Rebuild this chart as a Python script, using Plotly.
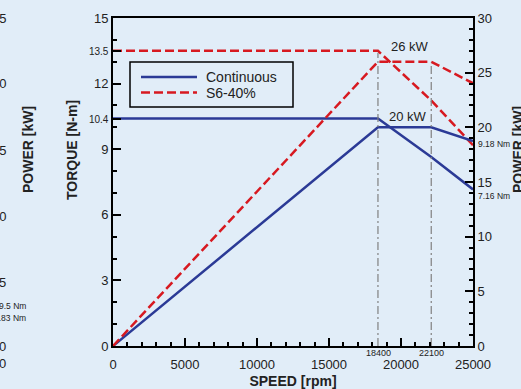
import plotly.graph_objects as go

# ---- data ----
speed = [0, 18400, 22100, 25000]
cont_torque = [10.4, 10.4, 8.64, 7.16]
cont_power = [0, 20, 20, 18.74]
s6_torque = [13.5, 13.5, 11.23, 9.18]
s6_power = [0, 26, 26, 24.03]
series_names = ["Continuous", "S6-40%"]
marker_speeds = [18400, 22100]
marker_tops = [26.8, 25.9]  # power-axis value where the dash-dot guides end
torque_ticks = [0, 3, 6, 9, 12, 15]
torque_special = [10.4, 13.5]
power_ticks = [0, 5, 10, 15, 20, 25, 30]
speed_ticks = [0, 5000, 10000, 15000, 20000, 25000]

BLUE = "#2b3a96"
RED = "#d71920"
BG = "#e1edf8"
FONT = "Liberation Sans, Arial, sans-serif"
RED_DASH = "9px,4px"

W, H = 521, 389
L, R, T, B = 113, 48, 18, 43
PW = W - L - R
PH = H - T - B


def px(x):
    return (x - L) / PW


def py(y):
    return (H - B - y) / PH


fig = go.Figure()
fig.add_trace(go.Scatter(x=speed, y=cont_torque, mode="lines", name=series_names[0],
                         line=dict(color=BLUE, width=2.5), yaxis="y"))
fig.add_trace(go.Scatter(x=speed, y=s6_torque, mode="lines", name=series_names[1],
                         line=dict(color=RED, width=2.5, dash=RED_DASH), yaxis="y"))
fig.add_trace(go.Scatter(x=speed, y=cont_power, mode="lines", name=series_names[0],
                         line=dict(color=BLUE, width=2.5), yaxis="y2"))
fig.add_trace(go.Scatter(x=speed, y=s6_power, mode="lines", name=series_names[1],
                         line=dict(color=RED, width=2.5, dash=RED_DASH), yaxis="y2"))

for s, top in zip(marker_speeds, marker_tops):
    fig.add_trace(go.Scatter(x=[s, s], y=[0, top], mode="lines", showlegend=False,
                             line=dict(color="#808080", width=1.2,
                                       dash="8px,3px,2px,3px"),
                             yaxis="y2"))

tvals = torque_ticks + torque_special
ttext = [str(v) for v in torque_ticks] + \
    ['<span style="font-size:10px">%s</span>' % v for v in torque_special]

fig.update_layout(
    width=W, height=H,
    margin=dict(l=L, r=R, t=T, b=B, autoexpand=False),
    paper_bgcolor=BG, plot_bgcolor=BG,
    font=dict(family=FONT, size=13, color="#222222"),
    showlegend=False,
    xaxis=dict(range=[0, 25000], tickvals=speed_ticks,
               ticktext=[str(v) for v in speed_ticks], ticks="inside", ticklen=8,
               tickwidth=1.5, tickcolor="black", showgrid=False, zeroline=False,
               showline=True, linecolor="black", linewidth=2, mirror=True,
               automargin=False, ticklabelstandoff=5,
               minor=dict(dtick=1000, ticks="inside", ticklen=4, tickcolor="black",
                          showgrid=False),
               title=dict(text="<b>SPEED [rpm]</b>", font=dict(size=14, color="#222222"),
                          standoff=6)),
    yaxis=dict(range=[0, 15], tickvals=tvals, ticktext=ttext, ticks="inside",
               ticklen=8, tickwidth=1.5, tickcolor="black", showgrid=False,
               zeroline=False, showline=True, linecolor="black", linewidth=2,
               automargin=False,
               minor=dict(dtick=1, ticks="inside", ticklen=4, tickcolor="black",
                          showgrid=False)),
    yaxis2=dict(range=[0, 30], tickvals=power_ticks, overlaying="y", side="right",
                ticks="inside", ticklen=8, tickwidth=1.5, tickcolor="black",
                showgrid=False, zeroline=False, showline=True, linecolor="black",
                linewidth=2, automargin=False,
                minor=dict(dtick=1, ticks="inside", ticklen=4, tickcolor="black",
                           showgrid=False)),
)

# legend box drawn by hand to match the reference proportions
fig.add_shape(type="rect", xref="paper", yref="paper",
              x0=px(130), x1=px(293), y0=py(107), y1=py(62),
              line=dict(color="black", width=1.5), fillcolor=BG, layer="above")
fig.add_shape(type="line", xref="paper", yref="paper",
              x0=px(141), x1=px(197), y0=py(77), y1=py(77),
              line=dict(color=BLUE, width=2.5))
fig.add_shape(type="line", xref="paper", yref="paper",
              x0=px(141), x1=px(197), y0=py(92.5), y1=py(92.5),
              line=dict(color=RED, width=2.5, dash=RED_DASH))

ann = []
ann.append(dict(text=series_names[0], x=px(204), y=py(77), xanchor="left", font=dict(size=14)))
ann.append(dict(text=series_names[1], x=px(204), y=py(92.5), xanchor="left", font=dict(size=14)))
# axis titles
ann.append(dict(text="<b>TORQUE [N-m]</b>", x=px(72), y=py(150), textangle=-90,
                font=dict(size=14)))
ann.append(dict(text="<b>POWER [kW]</b>", x=px(518), y=py(150), textangle=-90,
                font=dict(size=14)))
# special speed labels
ann.append(dict(text="18400", x=px(378), y=py(353), font=dict(size=9)))
ann.append(dict(text="22100", x=px(431), y=py(353), font=dict(size=9)))
# point annotations
ann.append(dict(text="26 kW", x=px(410), y=py(47), font=dict(size=13)))
ann.append(dict(text="20 kW", x=px(408), y=py(116), font=dict(size=13)))
ann.append(dict(text="9.18 Nm", x=px(476), y=py(144), xanchor="left", font=dict(size=8.5)))
ann.append(dict(text="7.16 Nm", x=px(476), y=py(196), xanchor="left", font=dict(size=8.5)))
# cropped neighbouring chart on the far left
for txt, yy in [("25", 18), ("20", 84), ("15", 150), ("10", 216), ("5", 282), ("0", 346)]:
    ann.append(dict(text=txt, x=px(8), y=py(yy), xanchor="right", font=dict(size=13)))
ann.append(dict(text="9.5 Nm", x=px(28), y=py(306), xanchor="right", font=dict(size=8.5)))
ann.append(dict(text="7.83 Nm", x=px(28), y=py(318), xanchor="right", font=dict(size=8.5)))
ann.append(dict(text="0", x=px(8), y=py(363), xanchor="right", font=dict(size=13)))
ann.append(dict(text="<b>POWER [kW]</b>", x=px(28), y=py(150), textangle=-90,
                font=dict(size=14)))

for a in ann:
    a.setdefault("xanchor", "center")
    a.update(xref="paper", yref="paper", yanchor="middle", showarrow=False)
    fig.add_annotation(**a)

fig.write_html("out.html", config={"displayModeBar": False},
               post_script="document.body.style.margin='0';"
                           "document.body.style.background='%s';" % BG)
